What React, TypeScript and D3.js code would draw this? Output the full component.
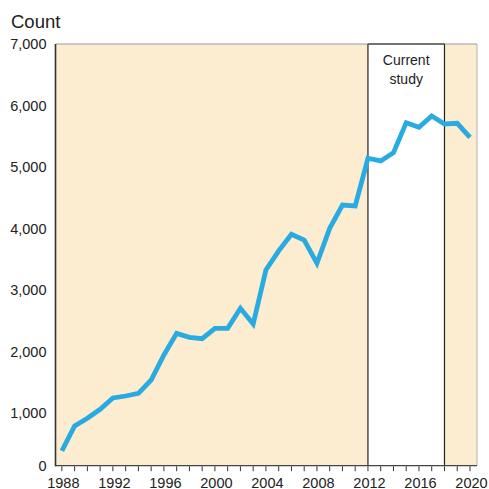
import React from "react";
import * as d3 from "d3";

const years: number[] = [
  1988, 1989, 1990, 1991, 1992, 1993, 1994, 1995, 1996, 1997, 1998,
  1999, 2000, 2001, 2002, 2003, 2004, 2005, 2006, 2007, 2008, 2009,
  2010, 2011, 2012, 2013, 2014, 2015, 2016, 2017, 2018, 2019, 2020,
];
const counts: number[] = [
  390, 795, 920, 1066, 1250, 1282, 1326, 1542, 1948, 2300, 2236,
  2213, 2382, 2382, 2707, 2452, 3329, 3640, 3909, 3816, 3438, 4006,
  4385, 4369, 5144, 5100, 5235, 5722, 5647, 5831, 5701, 5712, 5485,
];
const yTicks: number[] = [1000, 2000, 3000, 4000, 5000, 6000, 7000];
const xLabelYears: number[] = [1988, 1992, 1996, 2000, 2004, 2008, 2012, 2016, 2020];
const studyStart = 2012;
const studyEnd = 2018;
const studyLabel = ["Current", "study"];
const yTitle = "Count";

const W = 489;
const H = 489;
const left = 55.5;
const right = 477;
const top = 44;
const bottom = 465.7;
const font = "'Liberation Sans', Arial, Helvetica, sans-serif";

export default function App() {
  const x = d3.scaleLinear().domain([1987.5, 2020.55]).range([left, right]);
  const y = d3.scaleLinear().domain([150, 7000]).range([bottom, top]);
  const line = d3
    .line<number>()
    .x((_, i) => x(years[i]))
    .y((d) => y(d))
    .curve(d3.curveLinear);
  const allYears = d3.range(1988, 2021);
  const fmt = d3.format(",");

  return (
    <svg
      width={W}
      height={H}
      style={{ position: "absolute", left: 0, top: 0, background: "#fff" }}
      fontFamily={font}
    >
      <rect x={left} y={top} width={right - left} height={bottom - top} fill="#FDEDD0" />
      <rect
        x={x(studyStart)}
        y={top}
        width={x(studyEnd) - x(studyStart)}
        height={bottom - top}
        fill="#fff"
      />
      {/* frame */}
      <line x1={left} x2={right} y1={top} y2={top} stroke="#9a9a9a" strokeWidth={1} />
      <line x1={right} x2={right} y1={top} y2={bottom} stroke="#b0b0b0" strokeWidth={1} />
      <line x1={x(studyStart)} x2={x(studyStart)} y1={top} y2={bottom} stroke="#222" strokeWidth={1.2} />
      <line x1={x(studyEnd)} x2={x(studyEnd)} y1={top} y2={bottom} stroke="#222" strokeWidth={1.2} />
      <line x1={x(studyStart)} x2={x(studyEnd)} y1={top} y2={top} stroke="#555" strokeWidth={1.4} />
      <line x1={left} x2={right} y1={bottom} y2={bottom} stroke="#444" strokeWidth={1.2} />
      <line x1={left} x2={left} y1={top} y2={bottom + 0.6} stroke="#333" strokeWidth={1.6} />

      {/* study label */}
      {studyLabel.map((t, i) => (
        <text
          key={t}
          x={(x(studyStart) + x(studyEnd)) / 2}
          y={64.5 + i * 19}
          textAnchor="middle"
          fontSize={14}
          fill="#222"
        >
          {t}
        </text>
      ))}

      {/* data line */}
      <path
        d={line(counts) || ""}
        fill="none"
        stroke="#29ABE2"
        strokeWidth={4.8}
        strokeLinejoin="miter"
        strokeLinecap="butt"
      />

      {/* x ticks */}
      {allYears.map((yr) => (
        <line key={yr} x1={x(yr)} x2={x(yr)} y1={bottom + 0.6} y2={bottom + 5.5} stroke="#333" strokeWidth={1} />
      ))}
      {xLabelYears.map((yr) => (
        <text key={yr} x={x(yr) + 1.5} y={487.5} textAnchor="middle" fontSize={14.5} fill="#222">
          {yr}
        </text>
      ))}

      {/* y ticks */}
      <text x={46.5} y={bottom + 5} textAnchor="end" fontSize={14.5} fill="#222">
        0
      </text>
      {yTicks.map((v) => (
        <text key={v} x={46.5} y={y(v) + 5} textAnchor="end" fontSize={14.5} fill="#222">
          {fmt(v)}
        </text>
      ))}

      <text x={11} y={28} fontSize={18.5} fill="#222">
        {yTitle}
      </text>
    </svg>
  );
}
